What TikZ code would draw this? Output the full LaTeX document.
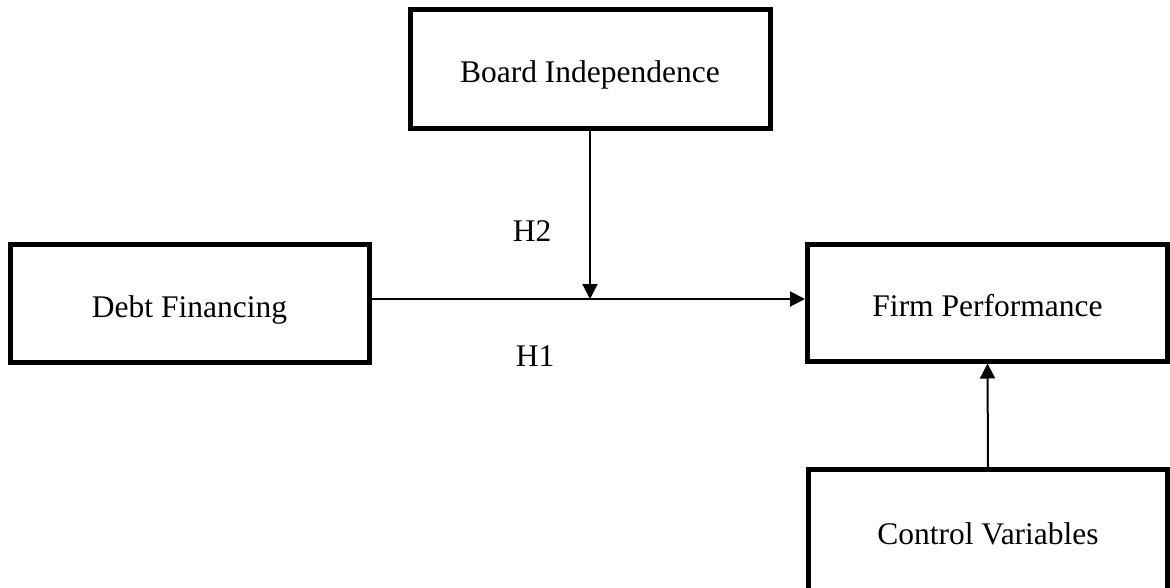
\documentclass[tikz,border=0pt]{standalone}
\usepackage{fontspec}
\setmainfont{Liberation Serif}
\usetikzlibrary{arrows.meta}
\begin{document}
\begin{tikzpicture}[x=1pt,y=-1pt,
  varbox/.style={draw=black,line width=5pt,inner sep=0pt,anchor=center,
    text height=27pt,text depth=0pt,
    font=\fontsize{31.5pt}{36pt}\selectfont},
  conn/.style={line width=2pt,-{Triangle[length=15pt,width=15pt]}},
  hlabel/.style={font=\fontsize{31.5pt}{36pt}\selectfont,inner sep=0pt}]
\useasboundingbox (0,0) rectangle (1170,588);
\node[varbox,minimum width=360pt,minimum height=119pt] (board) at (590,69.5) {Board Independence};
\node[varbox,minimum width=359pt,minimum height=117pt] (debt) at (189.5,303.5) {Debt Financing};
\node[varbox,minimum width=360pt,minimum height=116pt] (firm) at (987.5,303) {Firm Performance};
\node[varbox,minimum width=359pt,minimum height=123pt] (control) at (988,531) {Control Variables};
\coordinate (m) at (590,299);
\draw[conn] (debt.east |- m) -- (firm.west |- m);
\draw[conn] (board.south) -- (m);
\draw[conn] (control.north) -- (firm.south);
\node[hlabel] (h2) at (532,231) {H2};
\node[hlabel] (h1) at (535,356) {H1};
\end{tikzpicture}
\end{document}
